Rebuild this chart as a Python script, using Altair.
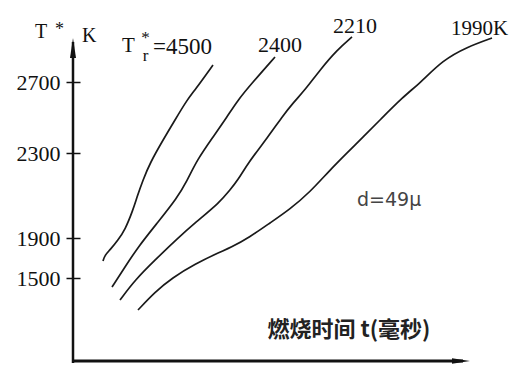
import altair as alt
import pandas as pd

# ---- data ----
series_labels = ["4500", "2400", "2210", "1990"]

t_4500 = [3.0, 3.2, 3.7, 4.5, 5.2, 6.0, 6.4, 7.0, 7.7, 9.0, 10.2, 11.4, 12.2, 14.0]
T_4500 = [1670, 1730, 1780, 1880, 1938, 2032, 2093, 2173, 2253, 2373, 2486, 2599, 2655, 2796]

t_2400 = [3.9, 5.2, 6.5, 8.5, 10.4, 11.4, 12.4, 14.0, 15.4, 16.5, 17.9, 20.2]
T_2400 = [1410, 1610, 1810, 1975, 2088, 2168, 2267, 2390, 2503, 2599, 2694, 2841]

t_2210 = [4.7, 6.2, 8.2, 10.5, 12.2, 14.7, 15.7, 16.5, 17.5, 19.5, 20.9, 22.0, 23.2, 24.7, 26.4, 27.9]
T_2210 = [1280, 1480, 1680, 1900, 1971, 2069, 2126, 2173, 2253, 2390, 2503, 2582, 2655, 2768, 2880, 2954]

t_1990 = [6.5, 8.2, 9.9, 12.2, 14.7, 15.7, 17.7, 19.7, 21.7, 23.7, 25.7, 27.4, 29.0, 30.7, 33.0, 34.7, 37.0, 39.4, 41.9]
T_1990 = [1180, 1360, 1500, 1640, 1760, 1800, 1905, 1971, 2036, 2116, 2220, 2300, 2390, 2486, 2616, 2694, 2824, 2897, 2948]

y_ticks = [1500, 1900, 2300, 2700]

x_title = "燃烧时间  t(毫秒)"
curve_label_texts = ["=4500", "2400", "2210", "1990K"]
note_text = "d=49μ"

# ---- build table ----
rows = []
for name, ts, Ts in zip(series_labels, [t_4500, t_2400, t_2210, t_1990], [T_4500, T_2400, T_2210, T_1990]):
    for a, b in zip(ts, Ts):
        rows.append({"series": name, "t": a, "T": b})
df = pd.DataFrame(rows)

W, H = 430, 330
SERIF = "Liberation Serif"

xscale = alt.Scale(domain=[0, 43], range=[0, W], nice=False, zero=False)
# the printed temperature axis is not evenly spaced: piecewise-linear scale
yscale = alt.Scale(domain=y_ticks, range=[248, 208, 123, 52], nice=False, zero=False)

lines = alt.Chart(df).mark_line(
    interpolate="basis", strokeWidth=1.7, color="#1a1a1a"
).encode(
    x=alt.X("t:Q", scale=xscale,
            axis=alt.Axis(title=x_title, titleX=194, titleY=-31, titleAlign="left",
                          titleBaseline="middle", titleFont="Noto Sans CJK SC",
                          titleFontSize=22, titleFontWeight="bold", titleColor="#222",
                          domain=False, ticks=False, labels=False, grid=False)),
    y=alt.Y("T:Q", scale=yscale,
            axis=alt.Axis(title=None, values=y_ticks, format="d", domain=False, grid=False,
                          offset=-7, tickSize=14, tickWidth=1.5, tickColor="#111",
                          labelFont=SERIF, labelFontSize=22, labelColor="#111",
                          labelPadding=6, labelFlush=False)),
    detail="series:N",
)

one = pd.DataFrame({"k": [0]})
base = alt.Chart(one)

y_axis_line = base.mark_rule(strokeWidth=2.5, color="#111").encode(
    x=alt.value(0), y=alt.value(12), y2=alt.value(333))
x_axis_line = base.mark_rule(strokeWidth=3, color="#111").encode(
    x=alt.value(0), x2=alt.value(390), y=alt.value(331))
y_arrow = base.mark_point(shape="M0,-1L0.3,1L-0.3,1Z", filled=True, size=400,
                          color="#111", opacity=1).encode(x=alt.value(0), y=alt.value(18))
x_arrow = base.mark_point(shape="M1,0L-1,-0.3L-1,0.3Z", filled=True, size=324,
                          color="#111", opacity=1).encode(x=alt.value(388), y=alt.value(331))


def txt(text, x, y, size, font=SERIF, align="left", color="#111", weight="normal", lh=None):
    kw = {}
    if lh is not None:
        kw["lineHeight"] = lh
    return base.mark_text(text=text, font=font, fontSize=size, align=align,
                          baseline="alphabetic", color=color, fontWeight=weight, **kw).encode(
        x=alt.value(x), y=alt.value(y))


labels = [
    txt("T", -38, 8, 20),
    txt("*", -18, 5, 18),
    txt("K", 9, 12, 20),
    txt("T", 49, 22, 21),
    txt(["*", "r"], 72.5, 13, 17, align="center", lh=18),
    txt(curve_label_texts[0], 80, 24, 23),
    txt(curve_label_texts[1], 185, 22, 22),
    txt(curve_label_texts[2], 260, 3, 22),
    txt(curve_label_texts[3], 378, 5, 21),
    txt(note_text, 284, 176, 19, font="DejaVu Sans", color="#444"),
]

chart = alt.layer(lines, y_axis_line, x_axis_line, y_arrow, x_arrow, *labels).properties(
    width=W, height=H,
    autosize=alt.AutoSizeParams(type="none"),
    padding={"left": 73, "top": 30, "right": 27, "bottom": 12},
    background="white",
).configure_view(stroke=None)

chart.save("out.html", embed_options={"renderer": "svg", "actions": False})
